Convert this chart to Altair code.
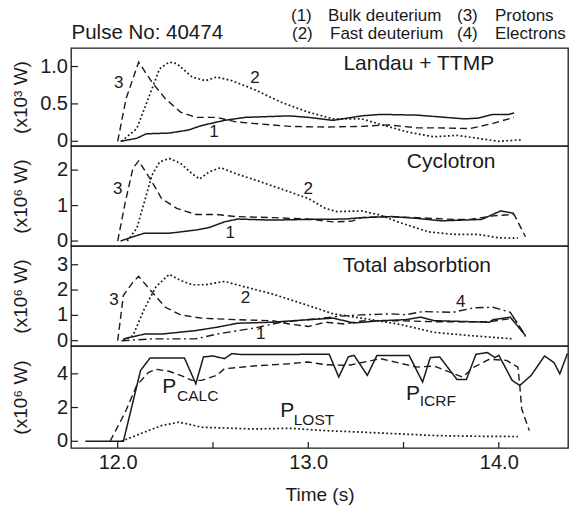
import altair as alt
import pandas as pd

FONT = "Liberation Sans"
INK = "#1a1a1a"
X_DOMAIN = [11.755, 14.363]

# ---- Landau + TTMP (x10^3 W) ----
lt_bulk_t = [12.015, 12.10, 12.15, 12.27, 12.37, 12.44, 12.56, 12.67, 12.90, 13.00, 13.13, 13.28, 13.38, 13.57, 13.82, 13.89, 13.97, 14.05, 14.08]
lt_bulk_v = [0.00, 0.04, 0.10, 0.11, 0.15, 0.21, 0.28, 0.32, 0.34, 0.32, 0.28, 0.34, 0.36, 0.35, 0.30, 0.31, 0.36, 0.36, 0.38]
lt_fast_t = [12.02, 12.10, 12.16, 12.22, 12.27, 12.31, 12.39, 12.46, 12.52, 12.60, 12.71, 12.86, 13.00, 13.13, 13.28, 13.40, 13.53, 13.66, 13.78, 13.89, 14.00, 14.12]
lt_fast_v = [0.00, 0.17, 0.57, 0.97, 1.06, 1.04, 0.86, 0.81, 0.86, 0.81, 0.70, 0.52, 0.39, 0.30, 0.30, 0.21, 0.12, 0.06, 0.08, 0.04, 0.00, 0.02]
lt_prot_t = [12.00, 12.044, 12.11, 12.18, 12.25, 12.33, 12.41, 12.52, 12.62, 12.71, 12.90, 13.09, 13.28, 13.42, 13.57, 13.66, 13.85, 13.97, 14.08]
lt_prot_v = [0.00, 0.57, 1.06, 0.79, 0.57, 0.39, 0.32, 0.32, 0.26, 0.24, 0.20, 0.19, 0.20, 0.22, 0.18, 0.18, 0.17, 0.24, 0.32]

# ---- Cyclotron (x10^6 W) ----
cy_bulk_t = [12.015, 12.08, 12.14, 12.27, 12.41, 12.48, 12.56, 12.63, 12.81, 13.00, 13.19, 13.28, 13.44, 13.57, 13.70, 13.91, 14.01, 14.08]
cy_bulk_v = [0.00, 0.12, 0.22, 0.22, 0.31, 0.38, 0.54, 0.62, 0.59, 0.61, 0.62, 0.66, 0.69, 0.64, 0.57, 0.61, 0.85, 0.78]
cy_fast_t = [12.05, 12.10, 12.14, 12.18, 12.22, 12.27, 12.33, 12.39, 12.43, 12.48, 12.54, 12.62, 12.75, 12.90, 13.00, 13.09, 13.15, 13.28, 13.38, 13.47, 13.63, 13.76, 13.89, 14.00, 14.10]
cy_fast_v = [0.00, 0.36, 1.10, 1.86, 2.23, 2.33, 2.19, 1.90, 1.75, 1.95, 2.07, 1.90, 1.67, 1.39, 1.20, 0.92, 0.83, 0.85, 0.73, 0.54, 0.26, 0.19, 0.19, 0.09, 0.08]
cy_prot_t = [12.00, 12.04, 12.08, 12.11, 12.18, 12.23, 12.31, 12.41, 12.52, 12.62, 12.81, 13.00, 13.13, 13.23, 13.28, 13.40, 13.57, 13.76, 13.85, 13.97, 14.08, 14.14]
cy_prot_v = [0.00, 1.10, 2.05, 2.26, 1.67, 1.20, 0.92, 0.75, 0.75, 0.69, 0.66, 0.62, 0.54, 0.56, 0.66, 0.69, 0.66, 0.61, 0.61, 0.71, 0.75, 0.12]

# ---- Total absorbtion (x10^6 W) ----
ta_bulk_t = [12.03, 12.14, 12.23, 12.41, 12.52, 12.63, 12.81, 13.00, 13.13, 13.24, 13.38, 13.51, 13.59, 13.66, 13.85, 13.95, 13.97, 14.06, 14.14]
ta_bulk_v = [0.07, 0.26, 0.26, 0.40, 0.53, 0.69, 0.73, 0.83, 0.89, 0.70, 0.79, 0.83, 0.93, 0.79, 0.75, 0.73, 0.83, 0.93, 0.20]
ta_fast_t = [12.03, 12.08, 12.14, 12.20, 12.27, 12.33, 12.39, 12.46, 12.56, 12.67, 12.81, 13.00, 13.13, 13.28, 13.47, 13.66, 13.85, 14.08]
ta_fast_v = [0.03, 0.20, 1.26, 2.12, 2.62, 2.38, 2.21, 2.21, 2.34, 2.12, 1.85, 1.39, 1.06, 0.89, 0.66, 0.33, 0.20, 0.07]
ta_prot_t = [12.00, 12.03, 12.08, 12.11, 12.18, 12.25, 12.33, 12.44, 12.62, 12.81, 12.90, 13.00, 13.09, 13.19, 13.28, 13.47, 13.66, 13.95, 14.08, 14.14]
ta_prot_v = [0.00, 1.79, 2.31, 2.54, 1.92, 1.32, 1.02, 0.89, 0.83, 0.79, 0.66, 0.56, 0.73, 0.66, 0.78, 0.79, 0.75, 0.75, 0.89, 0.16]
ta_elec_t = [12.02, 12.18, 12.41, 12.52, 12.71, 12.86, 13.04, 13.17, 13.28, 13.44, 13.51, 13.60, 13.76, 13.87, 13.97, 14.06, 14.14]
ta_elec_v = [0.00, 0.07, 0.07, 0.26, 0.49, 0.73, 0.86, 0.97, 1.02, 1.06, 1.02, 1.15, 1.12, 1.30, 1.32, 1.12, 0.20]

# ---- Power balance (x10^6 W) ----
icrf_t = [11.83, 12.03, 12.12, 12.17, 12.35, 12.41, 12.45, 12.50, 12.56, 12.60, 12.65, 13.11, 13.16, 13.21, 13.24, 13.31, 13.36, 13.53, 13.60, 13.64, 13.69, 13.78, 13.83, 13.88, 13.94, 13.98, 14.00, 14.07, 14.11, 14.17, 14.24, 14.29, 14.32, 14.36]
icrf_v = [0.00, 0.00, 4.20, 4.94, 4.94, 3.41, 5.00, 5.06, 4.90, 5.20, 5.14, 5.16, 3.81, 5.00, 5.10, 3.91, 5.08, 5.08, 3.51, 4.96, 5.00, 3.67, 3.67, 5.16, 5.26, 4.96, 5.10, 3.61, 3.31, 3.91, 5.06, 4.66, 4.00, 5.20]
calc_t = [11.96, 12.04, 12.10, 12.16, 12.20, 12.27, 12.33, 12.39, 12.44, 12.52, 12.56, 12.71, 12.90, 13.00, 13.09, 13.21, 13.38, 13.47, 13.57, 13.66, 13.81, 13.87, 13.95, 14.04, 14.10, 14.11, 14.12, 14.16]
calc_v = [0.00, 1.73, 3.31, 4.07, 4.27, 4.15, 3.91, 3.61, 3.61, 3.91, 4.30, 4.46, 4.60, 4.70, 4.54, 4.50, 4.90, 4.66, 4.40, 4.46, 3.81, 4.40, 4.86, 4.80, 4.40, 3.31, 1.92, 0.63]
lost_t = [12.02, 12.14, 12.23, 12.32, 12.39, 12.44, 12.71, 12.90, 13.09, 13.28, 13.47, 13.66, 13.85, 14.10]
lost_v = [0.00, 0.54, 0.93, 1.13, 0.97, 0.83, 0.73, 0.77, 0.63, 0.54, 0.44, 0.34, 0.30, 0.28]

# ---- annotations ----
lt_label_text = ["3", "2", "1"]
lt_label_t = [12.005, 12.72, 12.505]
lt_label_v = [0.78, 0.84, 0.13]
cy_label_text = ["3", "2", "1"]
cy_label_t = [12.00, 13.00, 12.59]
cy_label_v = [1.48, 1.48, 0.22]
ta_label_text = ["3", "2", "4", "1"]
ta_label_t = [11.98, 12.67, 13.80, 12.75]
ta_label_v = [1.59, 1.68, 1.52, 0.26]

panel_titles = ["Landau + TTMP", "Cyclotron", "Total absorbtion"]
panel_title_t = [13.58, 13.75, 13.57]
panel_title_v = [1.04, 2.23, 2.96]

p_main_t = [12.27, 12.89, 13.55]
p_main_v = [3.19, 1.77, 2.82]
p_sub_text = ["CALC", "LOST", "ICRF"]
p_sub_t = [12.42, 13.03, 13.68]
p_sub_v = [2.68, 1.29, 2.36]

# ---- axis ticks ----
lt_ticks, lt_tick_text = [0, 0.5, 1.0], ["0", "0.5", "1.0"]
cy_ticks, cy_tick_text = [0, 1, 2], ["0", "1", "2"]
ta_ticks, ta_tick_text = [0, 1, 2, 3], ["0", "1", "2", "3"]
pb_ticks, pb_tick_text = [0, 2, 4], ["0", "2", "4"]
x_ticks = [12.0, 12.5, 13.0, 13.5, 14.0]
x_labels = [12.0, 13.0, 14.0]

DASHES = {"solid": [1, 0], "dot": [1.8, 2.4], "dash": [7, 4], "dashdot": [8, 3.5, 2, 3.5]}
WIDTHS = {"solid": 1.5, "dot": 1.7, "dash": 1.4, "dashdot": 1.4}

W = 497


def series(t, v, style):
    return (
        alt.Chart(pd.DataFrame({"t": t, "v": v, "i": range(len(t))}))
        .mark_line(color=INK, strokeWidth=WIDTHS[style], strokeDash=DASHES[style], clip=True)
        .encode(x=alt.X("t:Q"), y=alt.Y("v:Q"), order="i:Q")
    )


def labels(texts, t, v, size=17, align="center"):
    return (
        alt.Chart(pd.DataFrame({"t": t, "v": v, "s": texts}))
        .mark_text(font=FONT, fontSize=size, color=INK, align=align, baseline="middle")
        .encode(x="t:Q", y="v:Q", text="s:N")
    )


def panel(layers, ydomain, yticks, ytick_text, ytitle, height, bottom=False):
    if bottom:
        xaxis = alt.Axis(
            values=x_labels, format=".1f", title="Time (s)", domain=False, ticks=False,
            grid=False, labelPadding=4, titlePadding=13, labelFont=FONT, titleFont=FONT,
            labelFontSize=20, titleFontSize=19, titleFontWeight="normal",
            labelColor=INK, titleColor=INK, labelOverlap=False,
        )
    else:
        xaxis = None
    yaxis = alt.Axis(
        values=yticks, labels=False, title=ytitle, domain=False, ticks=False, grid=False,
        titleFont=FONT, titleFontSize=19, titleFontWeight="normal", titleColor=INK,
        titleX=-51, titleBaseline="middle", titleAngle=-90,
    )
    xs = alt.Scale(domain=X_DOMAIN, nice=False, zero=False)
    ys = alt.Scale(domain=ydomain, nice=False, zero=False)

    ytick_rules = (
        alt.Chart(pd.DataFrame({"v": yticks}))
        .mark_rule(color=INK, strokeWidth=1.2)
        .encode(y="v:Q", x=alt.value(0), x2=alt.value(7))
    )
    # Tick labels on the left of each panel, placed through the panel's y scale
    ytick_labels = (
        alt.Chart(pd.DataFrame({"v": yticks, "s": ytick_text}))
        .mark_text(font=FONT, fontSize=20, color=INK, align="right", baseline="middle", dx=-3)
        .encode(y="v:Q", x=alt.value(0), text="s:N")
    )
    parts = [ytick_rules, ytick_labels] + layers
    if bottom:
        parts.append(
            alt.Chart(pd.DataFrame({"t": x_ticks}))
            .mark_rule(color=INK, strokeWidth=1.2)
            .encode(x="t:Q", y=alt.value(height), y2=alt.value(height - 6))
        )
    # Anchor the shared scales and axes on an invisible base layer
    base = (
        alt.Chart(pd.DataFrame({"t": [X_DOMAIN[0]], "v": [ydomain[0]]}))
        .mark_point(opacity=0)
        .encode(x=alt.X("t:Q", scale=xs, axis=xaxis), y=alt.Y("v:Q", scale=ys, axis=yaxis))
    )
    return alt.layer(base, *parts).properties(width=W, height=height)


# Header above the first panel
header_rows = [
    ("Pulse No: 40474", 0.5, -9, 20.5),
    ("(1)", 220, -27.5, 17), ("Bulk deuterium", 257, -27.5, 17),
    ("(3)", 386, -27.5, 17), ("Protons", 424, -27.5, 17),
    ("(2)", 221, -9, 17), ("Fast deuterium", 259, -9, 17),
    ("(4)", 386, -9, 17), ("Electrons", 424, -9, 17),
]
header = [
    alt.Chart(pd.DataFrame({"s": [s]}))
    .mark_text(font=FONT, fontSize=fs, color=INK, align="left", baseline="alphabetic")
    .encode(text="s:N", x=alt.value(px), y=alt.value(py))
    for s, px, py, fs in header_rows
]

p1 = panel(
    [series(lt_bulk_t, lt_bulk_v, "solid"), series(lt_fast_t, lt_fast_v, "dot"),
     series(lt_prot_t, lt_prot_v, "dash"),
     labels(lt_label_text, lt_label_t, lt_label_v),
     labels([panel_titles[0]], [panel_title_t[0]], [panel_title_v[0]], size=21)] + header,
    [-0.063, 1.248], lt_ticks, lt_tick_text, "(x10³ W)", 98,
)
p2 = panel(
    [series(cy_bulk_t, cy_bulk_v, "solid"), series(cy_fast_t, cy_fast_v, "dot"),
     series(cy_prot_t, cy_prot_v, "dash"),
     labels(cy_label_text, cy_label_t, cy_label_v),
     labels([panel_titles[1]], [panel_title_t[1]], [panel_title_v[1]], size=21)],
    [-0.14, 2.68], cy_ticks, cy_tick_text, "(x10⁶ W)", 100,
)
p3 = panel(
    [series(ta_bulk_t, ta_bulk_v, "solid"), series(ta_fast_t, ta_fast_v, "dot"),
     series(ta_prot_t, ta_prot_v, "dash"), series(ta_elec_t, ta_elec_v, "dashdot"),
     labels(ta_label_text, ta_label_t, ta_label_v),
     labels([panel_titles[2]], [panel_title_t[2]], [panel_title_v[2]], size=21)],
    [-0.21, 3.74], ta_ticks, ta_tick_text, "(x10⁶ W)", 100,
)
p4 = panel(
    [series(icrf_t, icrf_v, "solid"), series(calc_t, calc_v, "dash"),
     series(lost_t, lost_v, "dot"),
     labels(["P", "P", "P"], p_main_t, p_main_v, size=21),
     labels(p_sub_text, p_sub_t, p_sub_v, size=15.5)],
    [-0.4, 5.65], pb_ticks, pb_tick_text, "(x10⁶ W)", 102, bottom=True,
)

chart = (
    alt.vconcat(p1, p2, p3, p4, spacing=0, bounds="flush")
    .resolve_scale(y="independent")
    .properties(padding={"left": 10, "top": 5, "right": 0, "bottom": 0}, background="white")
    .configure_view(stroke=INK, strokeWidth=1.3)
)

chart.save("out.html", embed_options={"renderer": "svg", "actions": False})
